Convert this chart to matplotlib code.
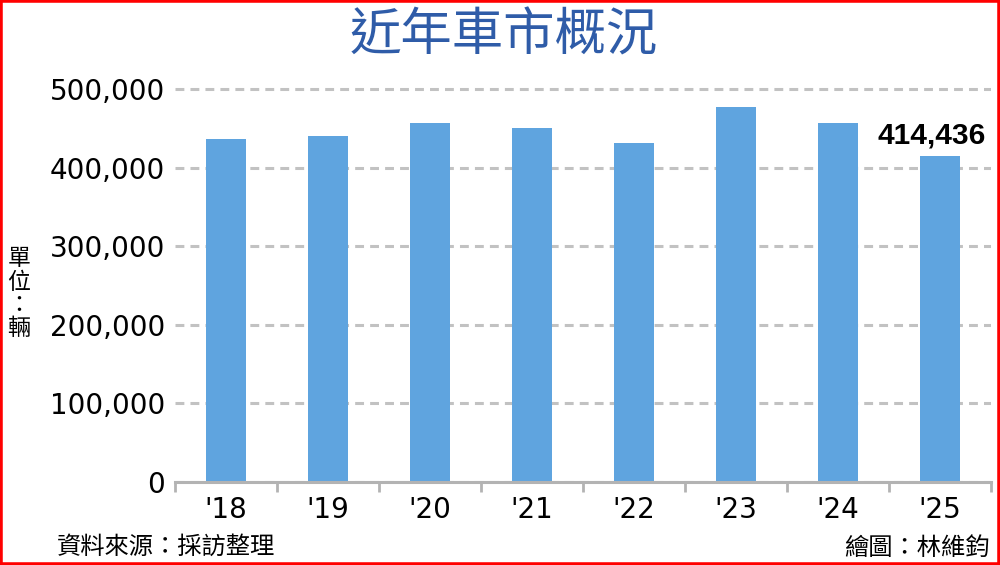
import matplotlib.pyplot as plt
from matplotlib.patches import Rectangle
from matplotlib.ticker import FuncFormatter, FixedLocator

# 近年車市概況 (單位：輛)
years = ["'18", "'19", "'20", "'21", "'22", "'23", "'24", "'25"]
sales = [436000, 440000, 457000, 450000, 431000, 477000, 457000, 414436]
yticks = [0, 100000, 200000, 300000, 400000, 500000]

bar_color = "#5fa4df"
grid_color = "#c2c2c2"
axis_color = "#b3b3b3"
title_color = "#2f5ca8"
cjk = ["Noto Sans CJK TC", "DejaVu Sans"]

fig = plt.figure(figsize=(10, 5.65), dpi=100)
ax = fig.add_axes([0.175, 0.1469, 0.816, 0.7025])

x = range(len(years))
ax.bar(x, sales, width=0.4, color=bar_color, zorder=2)

ax.set_xlim(-0.5, len(years) - 0.5)
ax.set_ylim(0, 505000)
ax.set_yticks(yticks)
ax.yaxis.set_major_formatter(FuncFormatter(lambda v, p: f"{int(v):,}"))
ax.tick_params(axis="y", length=0, pad=7, labelsize=20)

ax.set_xticks(list(x))
ax.set_xticklabels(years)
ax.xaxis.set_minor_locator(FixedLocator([i - 0.5 for i in range(len(years) + 1)]))
ax.tick_params(axis="x", which="major", length=0, pad=10, labelsize=20)
ax.tick_params(axis="x", which="minor", length=7, width=2, color=axis_color)

ax.set_axisbelow(True)
ax.grid(axis="y", color=grid_color, linewidth=2.2, linestyle=(0, (2.9, 2)))
ax.grid(axis="x", visible=False)
for s in ["top", "right", "left"]:
    ax.spines[s].set_visible(False)
ax.spines["bottom"].set_color(axis_color)
ax.spines["bottom"].set_linewidth(2.2)
ax.spines["bottom"].set_zorder(3)

# last value label
ax.annotate(f"{sales[-1]:,}", xy=(len(years) - 1, sales[-1]), xytext=(-6, 9.5),
            textcoords="offset points", ha="center", va="baseline",
            fontsize=21.5, fontweight="bold", family="Liberation Sans", color="black")

fig.text(0.504, 0.936, "近年車市概況", ha="center", va="center", fontsize=37,
         color=title_color, family=cjk)
fig.text(0.019, 0.48, "單\n位\n：\n輛", ha="center", va="center", fontsize=16.5,
         family=cjk, linespacing=1.02)
fig.text(0.057, 0.032, "資料來源：採訪整理", ha="left", va="center", fontsize=17.5, family=cjk)
fig.text(0.99, 0.030, "繪圖：林維鈞", ha="right", va="center", fontsize=17.5, family=cjk)

fig.patches.append(Rectangle((0, 0), 1, 1, transform=fig.transFigure, fill=False,
                             edgecolor="red", linewidth=4, zorder=10))

plt.savefig("out.png", dpi=100)
